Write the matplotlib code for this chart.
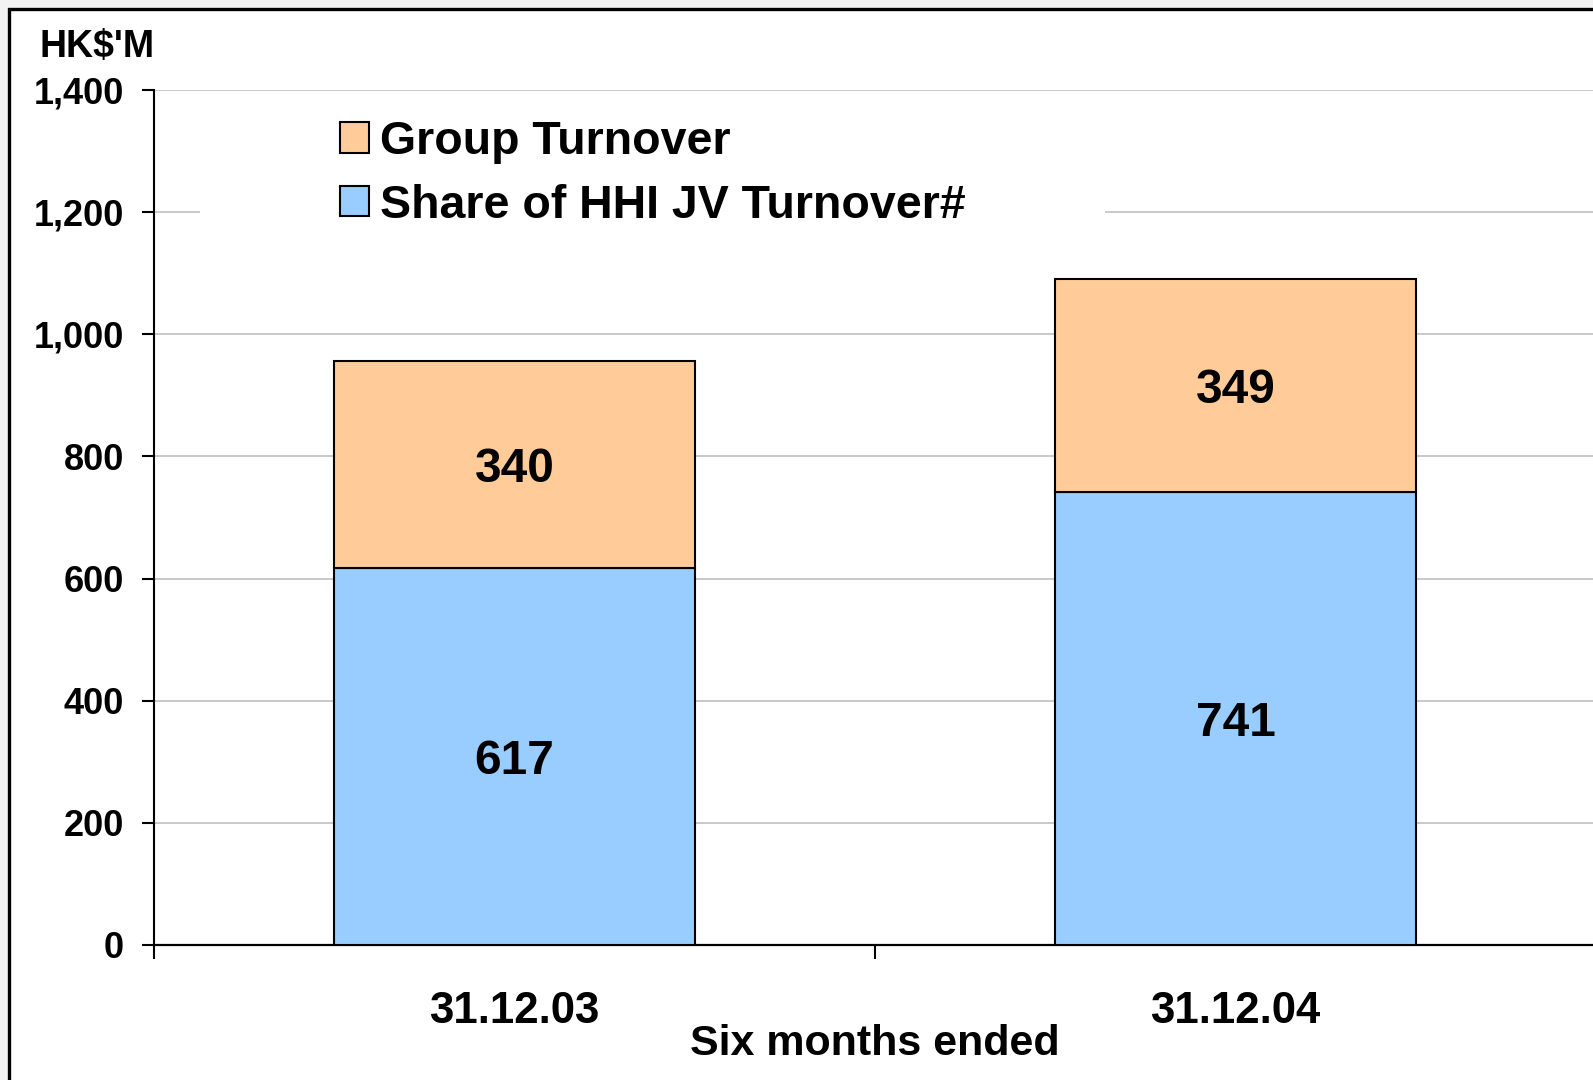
import matplotlib
matplotlib.use('Agg')
import matplotlib.pyplot as plt
from matplotlib.patches import Rectangle

# chart data
periods = ['31.12.03', '31.12.04']
jv_share = [617, 741]
group_turnover = [340, 349]
y_ticks = [0, 200, 400, 600, 800, 1000, 1200, 1400]
y_tick_labels = ['0', '200', '400', '600', '800', '1,000', '1,200', '1,400']

plt.rcParams['font.family'] = ['Liberation Sans', 'DejaVu Sans']
plt.rcParams['font.weight'] = 'bold'

W, H = 1593, 1080
fig = plt.figure(figsize=(W / 100, H / 100), dpi=100, facecolor='#f2f2f2')

# white panel with black frame, running off the right and bottom edge
frame = Rectangle((9 / W, -0.1), 1.2, 1 - 9 / H + 0.1, transform=fig.transFigure,
                  facecolor='white', edgecolor='black', linewidth=2.4, zorder=0)
fig.add_artist(frame)

# axes box in pixels: left 154, right 1596, top 90, bottom 945
ax = fig.add_axes([154 / W, (H - 945) / H, 1442 / W, 855 / H])
ax.set_facecolor('none')

x = list(range(len(periods)))
orange = '#ffcc99'
blue = '#99ccff'

ax.bar(x, jv_share, width=0.5, color=blue, edgecolor='black', linewidth=1.5,
       label='Share of HHI JV Turnover#', zorder=3)
ax.bar(x, group_turnover, width=0.5, bottom=jv_share, color=orange,
       edgecolor='black', linewidth=1.5, label='Group Turnover', zorder=3)

for xi, lo, hi in zip(x, jv_share, group_turnover):
    ax.text(xi, lo / 2, str(lo), ha='center', va='center_baseline',
            fontsize=34.5, fontweight='bold', zorder=4)
    ax.text(xi, lo + hi / 2, str(hi), ha='center', va='center_baseline',
            fontsize=34.5, fontweight='bold', zorder=4)

ax.set_xlim(-0.5, 1.5)
ax.set_ylim(0, 1400)
ax.set_yticks(y_ticks)
ax.set_yticklabels(y_tick_labels)
ax.yaxis.grid(True, color='#c0c0c0', linewidth=1.2, zorder=0)
ax.set_axisbelow(True)

ax.tick_params(axis='y', direction='out', length=8.6, width=1.5, pad=13,
               labelsize=26, colors='black')
ax.set_xticks([-0.5, 0.5, 1.5])
ax.set_xticklabels([])
ax.tick_params(axis='x', which='major', direction='out', length=10, width=1.5)
ax.set_xticks(x, minor=True)
ax.set_xticklabels(periods, minor=True)
ax.tick_params(axis='x', which='minor', length=0, pad=33, labelsize=31.5)

for side in ['top', 'right']:
    ax.spines[side].set_visible(False)
ax.spines['left'].set_linewidth(1.5)
ax.spines['bottom'].set_linewidth(1.6)

ax.set_xlabel('Six months ended', fontsize=31, fontweight='bold')
ax.xaxis.set_label_coords(0.5, (945 - 1055) / 855)
ax.xaxis.label.set_va('baseline')

fig.text(40 / W, 1 - 57 / H, "HK$'M", fontsize=27, fontweight='bold',
         ha='left', va='baseline')

# white patch behind the legend that hides the 1,200 gridline
ax.add_patch(Rectangle(((200 - 154) / 1442, (945 - 230) / 855), 905 / 1442, 125 / 855,
                       transform=ax.transAxes, facecolor='white', edgecolor='none',
                       zorder=1))

handles, labels = ax.get_legend_handles_labels()
leg = ax.legend(handles[::-1], labels[::-1], loc='upper left',
                bbox_to_anchor=(340 / W, 1 - 120 / H), bbox_transform=fig.transFigure,
                frameon=False, fontsize=33.5, borderpad=0, borderaxespad=0,
                handlelength=0.63, handleheight=0.63, handletextpad=0.24,
                labelspacing=0.42)
leg.set_zorder(5)

fig.savefig('out.png', dpi=100, facecolor=fig.get_facecolor())
